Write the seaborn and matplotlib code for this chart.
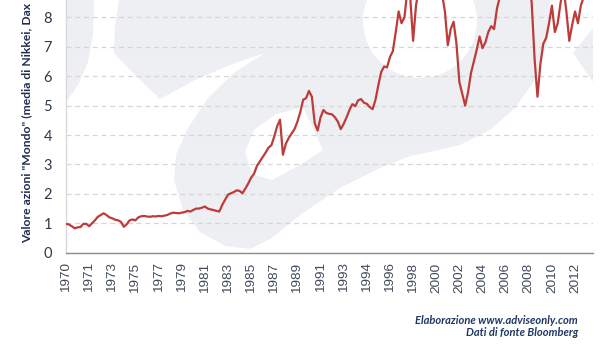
import numpy as np
import pandas as pd
import seaborn as sns
import matplotlib.pyplot as plt
from matplotlib.patches import Polygon, Ellipse

# --- data ---
YEAR_LABELS = ["1970", "1971", "1973", "1975", "1977", "1979", "1981", "1983",
               "1985", "1987", "1989", "1991", "1993", "1994", "1996", "1998",
               "2000", "2002", "2004", "2006", "2008", "2010", "2012"]
POINTS_PER_LABEL = 8

WORLD_INDEX = [
    0.98, 0.96, 0.90, 0.83, 0.86, 0.87, 0.98, 0.98, 0.90, 1.00,
    1.10, 1.22, 1.28, 1.34, 1.28, 1.20, 1.17, 1.12, 1.10, 1.05,
    0.88, 0.97, 1.10, 1.13, 1.10, 1.20, 1.24, 1.25, 1.23, 1.22,
    1.24, 1.23, 1.25, 1.24, 1.26, 1.28, 1.33, 1.36, 1.35, 1.34,
    1.36, 1.38, 1.42, 1.40, 1.45, 1.50, 1.50, 1.53, 1.57, 1.50,
    1.47, 1.45, 1.42, 1.40, 1.62, 1.80, 1.97, 2.02, 2.06, 2.12,
    2.10, 2.02, 2.18, 2.35, 2.55, 2.68, 2.95, 3.10, 3.25, 3.40,
    3.57, 3.65, 3.95, 4.30, 4.52, 3.33, 3.70, 3.90, 4.05, 4.20,
    4.45, 4.78, 5.20, 5.25, 5.50, 5.30, 4.40, 4.15, 4.60, 4.85,
    4.75, 4.72, 4.70, 4.60, 4.45, 4.20, 4.38, 4.60, 4.85, 5.05,
    4.98, 5.18, 5.22, 5.10, 5.06, 4.95, 4.88, 5.20, 5.70, 6.15,
    6.33, 6.30, 6.65, 6.85, 7.50, 8.20, 7.80, 8.00, 8.90, 8.70,
    7.20, 8.40, 9.00, 9.20, 9.40, 9.10, 9.50, 9.80, 9.60, 9.30,
    8.80, 8.20, 7.05, 7.60, 7.85, 7.10, 5.80, 5.40, 5.00, 5.45,
    6.10, 6.50, 6.90, 7.35, 6.95, 7.15, 7.50, 7.70, 7.60, 8.30,
    8.70, 9.00, 9.30, 9.60, 9.90, 10.20, 10.50, 10.80, 10.60, 10.00,
    9.20, 8.50, 6.60, 5.30, 6.40, 7.10, 7.30, 7.80, 8.40, 7.50,
    7.80, 8.50, 9.00, 8.20, 7.20, 7.75, 8.20, 7.80, 8.40, 8.70,
]

# --- background logo watermark (figure pixels, y from top) ---
W, H = 614, 346
LOGO_GREY = "#eeeff2"
LEFT_ARC = [(66, 0), (94, 0), (93, 35), (88, 62), (78, 85), (66, 102)]
MAIN_SHAPE = [(119, 0), (550, 0), (548, 40), (535, 80), (515, 108), (490, 130),
              (460, 145), (430, 152), (410, 156), (380, 168), (340, 188),
              (300, 215), (272, 238), (250, 249), (225, 246), (200, 232),
              (183, 210), (174, 180), (176, 155), (188, 128), (208, 98),
              (235, 72), (265, 53), (230, 65), (195, 80), (160, 99),
              (138, 78), (114, 53), (115, 25)]
WHITE_LEAF = [(303, 107), (323, 150), (300, 165), (272, 180), (252, 174),
              (245, 152), (254, 130), (276, 114)]
RIGHT_WEDGE = [(573, 53), (593, 28), (593, 82)]


def px(points):
    return [(x / W, 1 - y / H) for x, y in points]


df = pd.DataFrame({"pos": np.arange(len(WORLD_INDEX)), "value": WORLD_INDEX})

sns.set_style("white")
plt.rcParams['font.family'] = ['Lato', 'DejaVu Sans']

fig = plt.figure(figsize=(6.14, 3.46), dpi=100)
ax = fig.add_axes([66 / W, 1 - 252.7 / H, (593 - 66) / W, 252.7 / H])

for shape, col in [(LEFT_ARC, LOGO_GREY), (MAIN_SHAPE, LOGO_GREY),
                   (WHITE_LEAF, "white"), (RIGHT_WEDGE, LOGO_GREY)]:
    ax.add_patch(Polygon(px(shape), closed=True, transform=fig.transFigure,
                         facecolor=col, edgecolor="none", zorder=0.2))
ax.add_patch(Ellipse((420 / W, 1 - 21 / H), 114 / W, 114 / H,
                     transform=fig.transFigure, facecolor="white",
                     edgecolor="none", zorder=0.25))

sns.lineplot(data=df, x="pos", y="value", ax=ax, color="#be3b3b",
             linewidth=1.6, zorder=3)

ax.set_xlim(0, 182.2)
ax.set_ylim(0, 252.7 / 29.42)
ax.set_yticks(range(0, 9))
ax.set_xticks(np.arange(len(YEAR_LABELS)) * POINTS_PER_LABEL)
ax.set_xticklabels(YEAR_LABELS, rotation=90, fontsize=9.7,
                   family="Liberation Sans", color="#404a5a")
for lab in ax.get_yticklabels():
    lab.set_fontsize(10.5)
    lab.set_color("#2f3b4c")
ax.tick_params(axis="both", length=0)
ax.tick_params(axis="x", pad=7)
ax.tick_params(axis="y", pad=10)

ax.set_axisbelow(True)
ax.yaxis.grid(True, color="#d6d6d6", linestyle=(0, (4, 3)), linewidth=0.9)
ax.xaxis.grid(False)
for side in ["top", "right"]:
    ax.spines[side].set_visible(False)
ax.spines["bottom"].set_color("#8c8c8c")
ax.spines["bottom"].set_linewidth(1.0)
ax.spines["left"].set_color("#d9d9d9")
ax.spines["left"].set_linewidth(1.0)
ax.set_xlabel("")
ax.set_ylabel("")

# only the part of the axis title that is visible in the original crop
fig.text(27 / W, 1 - 243 / H,
         'Valore azioni "Mondo" (media di Nikkei, Dax',
         rotation=90, ha="center", va="bottom", fontsize=8.7,
         weight="bold", color="#1f2d4d")

fig.text(578 / W, 1 - 320 / H, "Elaborazione www.adviseonly.com",
         ha="right", va="center", fontsize=8, style="italic",
         weight="bold", color="#1f3864")
fig.text(578 / W, 1 - 333 / H, "Dati di fonte Bloomberg",
         ha="right", va="center", fontsize=8, style="italic",
         weight="bold", color="#1f3864")

fig.savefig("out.png", dpi=100)
